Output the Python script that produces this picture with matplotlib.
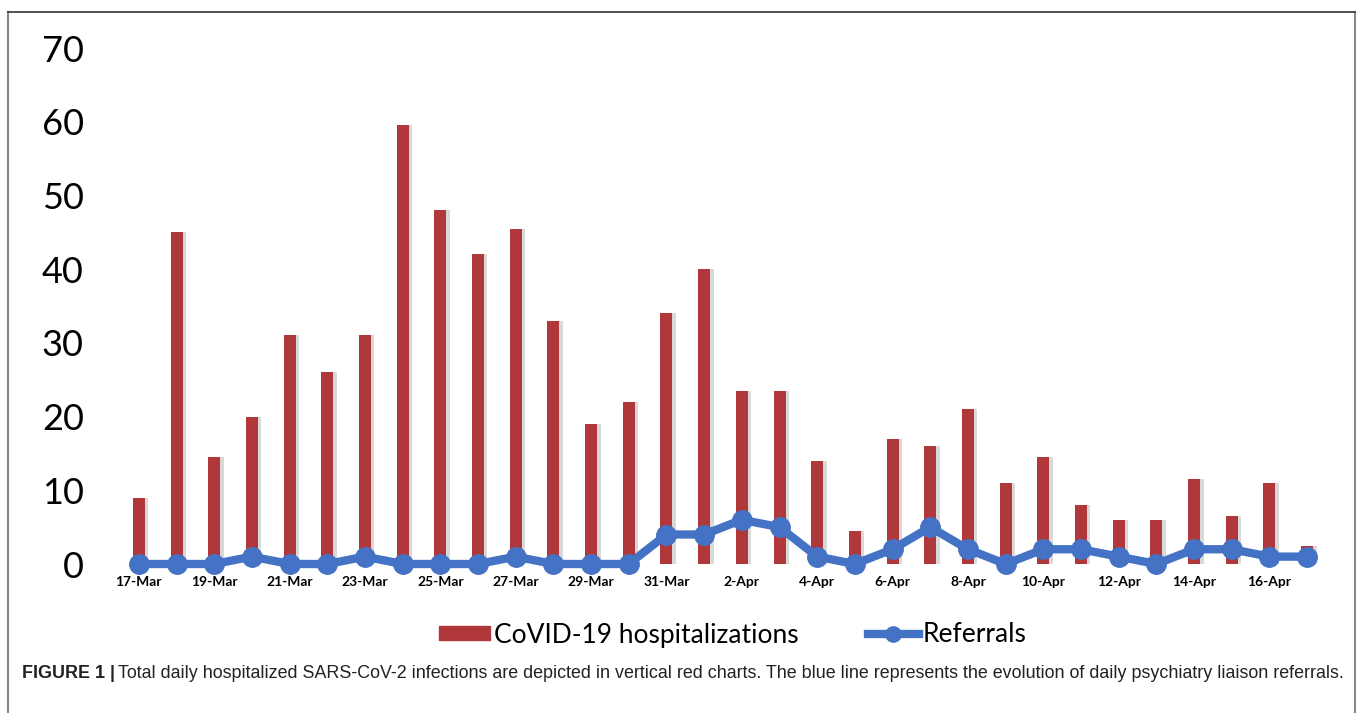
import matplotlib
matplotlib.use("Agg")
import matplotlib.pyplot as plt
from matplotlib.lines import Line2D
from matplotlib.patches import Patch
import numpy as np

dates = ["17-Mar", "18-Mar", "19-Mar", "20-Mar", "21-Mar", "22-Mar", "23-Mar", "24-Mar",
         "25-Mar", "26-Mar", "27-Mar", "28-Mar", "29-Mar", "30-Mar", "31-Mar",
         "1-Apr", "2-Apr", "3-Apr", "4-Apr", "5-Apr", "6-Apr", "7-Apr", "8-Apr",
         "9-Apr", "10-Apr", "11-Apr", "12-Apr", "13-Apr", "14-Apr", "15-Apr",
         "16-Apr", "17-Apr"]
hospitalizations = [9, 45, 14.5, 20, 31, 26, 31, 59.5, 48, 42, 45.5, 33, 19, 22, 34,
                    40, 23.5, 23.5, 14, 4.5, 17, 16, 21, 11, 14.5, 8, 6, 6, 11.5, 6.5,
                    11, 2.5]
referrals = [0, 0, 0, 1, 0, 0, 1, 0, 0, 0, 1, 0, 0, 0, 4, 4, 6, 5, 1, 0, 2, 5, 2, 0,
             2, 2, 1, 0, 2, 2, 1, 1]
yticks = [0, 10, 20, 30, 40, 50, 60, 70]

W, H = 1360, 713
fig = plt.figure(figsize=(W / 100, H / 100), dpi=100)
fig.patch.set_facecolor("white")

ax = fig.add_axes([120 / W, 1 - 564 / H, (1326 - 120) / W, (564 - 48) / H])
x = np.arange(len(dates))

bar_color = "#B0383B"
line_color = "#4472C4"

# subtle shadow behind bars
ax.bar(x + 0.09, hospitalizations, width=0.32, color="#D9D9D9", zorder=1)
ax.bar(x, hospitalizations, width=0.32, color=bar_color, zorder=2)
ax.plot(x, referrals, color=line_color, lw=6, marker="o", ms=14,
        solid_joinstyle="round", zorder=3, clip_on=False)

ax.set_xlim(-0.5, len(dates) - 0.5)
ax.set_ylim(0, 70)
for s in ax.spines.values():
    s.set_visible(False)

ax.set_yticks(yticks)
ax.set_yticklabels([str(v) for v in yticks], fontsize=26, family="Lato")
ax.tick_params(axis="y", length=0, pad=26)
ax.set_xticks(x[::2])
ax.set_xticklabels(dates[::2], fontsize=10, family="Lato", fontweight="bold")
ax.tick_params(axis="x", length=0, pad=9)

handles = [Patch(color=bar_color, label="CoVID-19 hospitalizations"),
           Line2D([0], [0], color=line_color, lw=6, marker="o", ms=11,
                  label="Referrals")]
fig.legend(handles=handles, loc="center", bbox_to_anchor=(733 / W, 1 - 635 / H),
           ncol=2, frameon=False, prop={"family": "Lato", "size": 19},
           handlelength=1.95, handleheight=0.45, handletextpad=0.15, columnspacing=2.6)

cap_y = 1 - 673 / H
fig.text(22 / W, cap_y, "FIGURE 1 |", fontsize=12.9, family="Liberation Sans",
         fontweight="bold", va="center", ha="left", color="#222222")
fig.text(118 / W, cap_y,
         "Total daily hospitalized SARS-CoV-2 infections are depicted in vertical red charts. "
         "The blue line represents the evolution of daily psychiatry liaison referrals.",
         fontsize=12.9, family="Liberation Sans", va="center", ha="left", color="#222222")

# frame
fig.add_artist(Line2D([8 / W, 8 / W], [0, 1 - 12 / H], color="#888888", lw=1.5))
fig.add_artist(Line2D([1355 / W, 1355 / W], [0, 1 - 12 / H], color="#888888", lw=1.5))
fig.add_artist(Line2D([8 / W, 1355 / W], [1 - 12 / H, 1 - 12 / H], color="#333333", lw=1.2))

fig.savefig("out.png", dpi=100)
